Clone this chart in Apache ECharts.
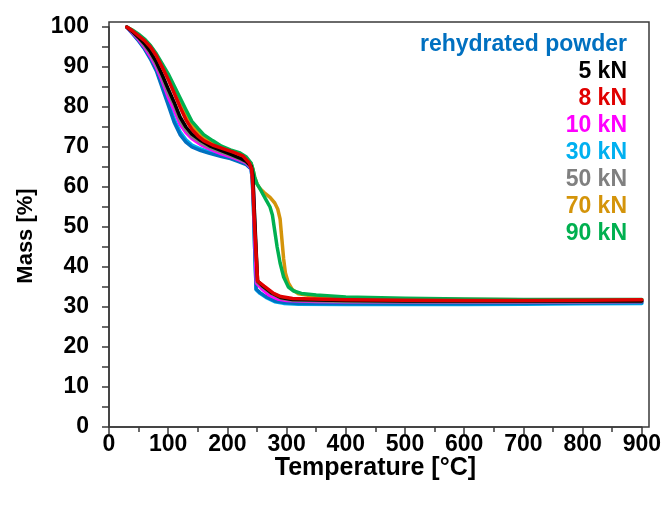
<!DOCTYPE html>
<html>
<head>
<meta charset="utf-8">
<script src="https://cdn.jsdelivr.net/npm/echarts@6/dist/echarts.min.js"></script>
<style>html,body{margin:0;padding:0;background:#fff}#c{width:664px;height:507px}</style>
</head>
<body>
<div id="c"></div>
<script>
// ---- data (Temperature [°C], Mass [%]) ----
const xTicks = [0,100,200,300,400,500,600,700,800,900];
const yTicks = [0,10,20,30,40,50,60,70,80,90,100];
const legendNames = ["rehydrated powder","5 kN","8 kN","10 kN","30 kN","50 kN","70 kN","90 kN"];

const rehydrated = [[30,100],[40,98.3],[50,96.5],[60,94.5],[70,92],[80,89],[90,84.8],[100,80.5],[110,76.2],[120,73.1],[130,71.2],[140,70],[155,69.1],[170,68.4],[190,67.6],[205,67.1],[220,66.3],[232,65.6],[240,64.5],[242,62],[244,55],[246,45],[248.5,34.5],[255,33.6],[265,32.6],[280,31.5],[295,31.1],[320,30.9],[400,30.8],[500,30.8],[600,30.8],[700,30.9],[800,31],[900,31.1]];
const kN30 = [[30,100],[40,98.4],[50,96.7],[60,94.7],[70,92.3],[80,89.4],[90,85.5],[100,81.4],[110,77],[120,73.8],[130,71.8],[140,70.5],[155,69.5],[170,68.8],[190,67.9],[205,67.3],[220,66.5],[232,65.8],[240,64.6],[242,62],[244,55],[246,45],[248.5,34.3],[255,33.4],[265,32.4],[280,31.3],[295,30.9],[320,30.7],[400,30.6],[500,30.6],[600,30.6],[700,30.7],[800,30.8],[900,30.9]];
const kN10 = [[30,100],[40,98.5],[50,96.9],[60,95],[70,92.7],[80,90],[90,86.5],[100,82.5],[110,79.3],[120,75.7],[130,73.6],[140,72.1],[155,70.6],[170,69.5],[190,68.3],[205,67.6],[220,66.8],[232,66],[240,64.8],[243,62],[245,54],[247,45],[249,36],[258,34.6],[270,33],[285,32],[300,31.6],[350,31.4],[400,31.3],[500,31.3],[600,31.3],[700,31.3],[800,31.3],[900,31.4]];
const kN50 = [[30,100],[40,98.7],[50,97.2],[60,95.4],[70,93.3],[80,90.6],[90,87.3],[100,83.5],[110,80.5],[120,76.6],[130,74.3],[140,72.6],[155,71.1],[170,69.9],[190,68.7],[205,67.9],[220,67],[232,66.2],[240,65],[243,62.5],[245,55],[248,45],[250.5,36.2],[260,35],[275,33.3],[290,32.2],[310,31.7],[400,31.4],[500,31.3],[600,31.3],[700,31.3],[800,31.3],[900,31.4]];
const kN5 = [[30,100],[40,98.8],[50,97.4],[60,95.8],[70,93.8],[80,91.2],[90,88],[100,84.5],[110,81.2],[120,77.5],[130,75],[140,73.2],[155,71.6],[170,70.3],[190,69.1],[205,68.2],[220,67.3],[232,66.4],[240,65.2],[243,63],[245,56],[248,46],[251,36.5],[260,35.2],[275,33.5],[290,32.4],[310,31.9],[400,31.6],[500,31.5],[600,31.5],[700,31.5],[800,31.5],[900,31.5]];
const kN8 = [[30,100],[40,99],[50,97.8],[60,96.6],[70,95],[80,92.8],[90,89.9],[100,86.9],[110,83.5],[120,80],[130,76.8],[140,74.4],[150,72.8],[160,71.6],[175,70.5],[190,69.7],[210,68.7],[226,67.8],[237,66],[241,64.5],[243,60],[246,50],[249,42],[251,36.5],[262,35.2],[278,33.4],[290,32.6],[310,32.1],[400,31.8],[500,31.7],[600,31.6],[700,31.6],[800,31.7],[900,31.8]];
const kN70 = [[30,100],[40,99.1],[50,98],[60,96.8],[70,95.2],[80,93],[90,90.3],[100,87.8],[110,84.5],[120,81.2],[130,78],[140,75.3],[150,73.7],[160,72.3],[175,71],[190,70],[205,69],[220,68.3],[232,67.2],[240,65.9],[243,64.5],[246,62.5],[250,60.8],[255,59.6],[262,58.6],[272,57.4],[280,56],[285,54.5],[289,52],[292,47],[295,42],[298,38.5],[303,36],[310,34.3],[320,33.3],[350,32.6],[400,32.2],[500,32],[600,31.9],[700,31.8],[800,31.8],[900,31.8]];
const kN90 = [[30,100],[40,99.2],[50,98.2],[60,97],[70,95.4],[80,93.3],[90,90.8],[100,88.3],[110,85.3],[120,82.3],[130,79.3],[140,76.4],[150,74.7],[160,73.1],[175,71.6],[190,70.2],[205,69.3],[220,68.6],[232,67.5],[240,66],[243,64.5],[246,62.5],[250,60.8],[255,59.6],[260,58.2],[266,56.6],[272,55],[276,53],[280,49],[284,45],[289,41],[295,37.5],[303,35],[312,34],[325,33.4],[350,33],[400,32.5],[500,32.2],[600,32],[700,31.9],[800,31.9],[900,31.9]];

const colors = {"rehydrated powder":"#0070C0","5 kN":"#000000","8 kN":"#E00000","10 kN":"#FF00FF","30 kN":"#00B0F0","50 kN":"#808080","70 kN":"#D4940A","90 kN":"#00B050"};
const seriesData = {"rehydrated powder":rehydrated,"5 kN":kN5,"8 kN":kN8,"10 kN":kN10,"30 kN":kN30,"50 kN":kN50,"70 kN":kN70,"90 kN":kN90};
const drawOrder = ["30 kN","rehydrated powder","10 kN","50 kN","70 kN","90 kN","5 kN","8 kN"];

const FONT = "Liberation Sans, Arial, sans-serif";
const chart = echarts.init(document.getElementById('c'), null, {renderer:'canvas'});
const axisCol = '#3a3a3a';
chart.setOption({
  animation:false,
  backgroundColor:'#fff',
  textStyle:{fontFamily:FONT},
  grid:[
    {left:109, right:20, top:27, bottom:80, containLabel:false},
    {left:109, right:15, top:22, bottom:80, show:true, borderColor:axisCol, borderWidth:1.5, backgroundColor:'transparent'}
  ],
  legend:{
    data: legendNames.map(n=>({name:n, textStyle:{color:colors[n]}})),
    orient:'vertical', right:32, top:31, align:'right', padding:0,
    itemWidth:0, itemHeight:0, itemGap:0, icon:'rect',
    selectedMode:false,
    textStyle:{fontSize:23, fontWeight:'bold', fontFamily:FONT, lineHeight:27}
  },
  xAxis:[{
    type:'value', gridIndex:0, min:xTicks[0], max:xTicks[xTicks.length-1], interval:100,
    name:'Temperature [°C]', nameLocation:'middle', nameGap:29, nameMoveOverlap:false,
    nameTextStyle:{fontSize:25, fontWeight:'bold', color:'#000', fontFamily:FONT},
    axisLine:{show:true, onZero:false, lineStyle:{color:axisCol, width:1.5}},
    axisTick:{show:true, inside:false, length:7, lineStyle:{color:axisCol, width:1.5}},
    minorTick:{show:true, splitNumber:2, length:5, lineStyle:{color:axisCol, width:1.5}},
    splitLine:{show:false},
    axisLabel:{fontSize:23, fontWeight:'bold', color:'#000', margin:6, fontFamily:FONT}
  },{type:'value', gridIndex:1, show:false, min:0, max:1}],
  yAxis:[{
    type:'value', gridIndex:0, min:yTicks[0], max:yTicks[yTicks.length-1], interval:10,
    name:'Mass [%]', nameLocation:'middle', nameGap:72, nameRotate:90, nameMoveOverlap:false,
    nameTextStyle:{fontSize:22, fontWeight:'bold', color:'#000', fontFamily:FONT, padding:[0,18,0,0]},
    axisLine:{show:true, onZero:false, lineStyle:{color:axisCol, width:1.5}},
    axisTick:{show:true, inside:false, length:7, lineStyle:{color:axisCol, width:1.5}},
    minorTick:{show:true, splitNumber:2, length:7, lineStyle:{color:axisCol, width:1.5}},
    splitLine:{show:false},
    axisLabel:{fontSize:23, fontWeight:'bold', color:'#000', margin:20, fontFamily:FONT}
  },{type:'value', gridIndex:1, show:false, min:0, max:1}],
  series: drawOrder.map(n=>({
    name:n, type:'line', xAxisIndex:0, yAxisIndex:0, data:seriesData[n],
    showSymbol:false, symbol:'none', smooth:false,
    lineStyle:{color:colors[n], width:3.5, join:'round', cap:'round'},
    itemStyle:{color:colors[n]}
  }))
});
</script>
</body>
</html>
